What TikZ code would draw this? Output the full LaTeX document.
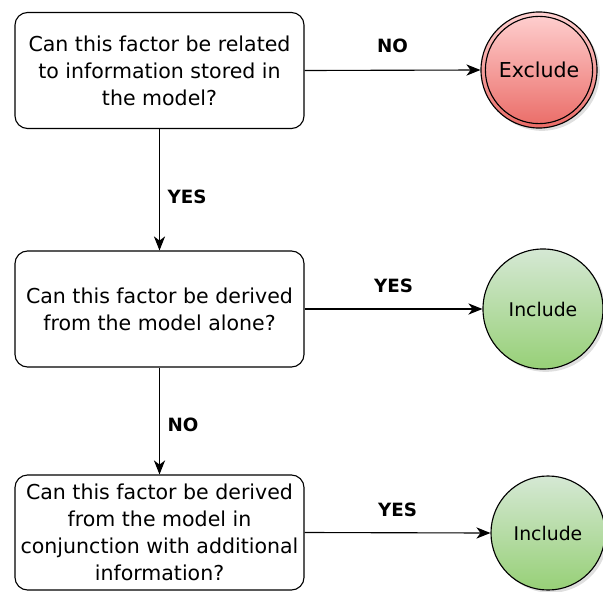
\documentclass[tikz,border=0pt]{standalone}
\usepackage{fontspec}
\setmainfont{DejaVu Sans}
\usetikzlibrary{shapes.geometric, arrows.meta, shadows}

\begin{document}
\begin{tikzpicture}[x=0.025cm, y=-0.025cm]
	\tikzstyle{question}=[draw, line width=0.8pt, rounded corners=9pt, align=center, inner sep=1pt, minimum height=2.9cm, minimum width=7.225cm, font=\fontsize{14.6}{19.2}\selectfont]
	\tikzstyle{result}=[draw, line width=0.8pt, circle, drop shadow={opacity=0.25, shadow xshift=2pt, shadow yshift=-2pt}, font=\fontsize{13.4}{16}\selectfont]
	\tikzstyle{answer}=[font=\bfseries\fontsize{13}{15}\selectfont]
	\tikzstyle{arrow}=[-{Stealth[length=10pt, width=8pt, inset=3pt]}, line width=0.8pt]

	\useasboundingbox (0, 0) rectangle (603, 591);

	% questions
	\node[question](Related) at (159.5, 70.5) {Can this factor be related\\to information stored in\\the model?};
	\node[question](Alone) at (159.5, 309) {Can this factor be derived\\from the model alone?};
	\node[question, minimum height=2.875cm](Conjunction) at (159.5, 532.5) {Can this factor be derived\\from the model in\\conjunction with additional\\information?};

	% exclude
	\node[result, minimum size=2.9cm, font=\fontsize{14.6}{16}\selectfont, top color=red!18!white, bottom color={rgb,255:red,234;green,107;blue,102}](Exclude) at (539, 70) {Exclude};
	\node[draw, line width=0.8pt, circle, minimum size=2.68cm](Exclude_Ring) at (Exclude.center) {};

	% include
	\node[result, minimum size=3cm, top color={rgb,255:red,213;green,232;blue,212}, bottom color={rgb,255:red,151;green,208;blue,119}](Include_Alone) at (543, 309) {Include};
	\node[result, minimum size=2.85cm, top color={rgb,255:red,213;green,232;blue,212}, bottom color={rgb,255:red,151;green,208;blue,119}](Include_Conj) at (548, 533) {Include};

	% lines
	% related - exclude
	\draw[arrow](Related.east)--(Exclude.west) node[answer, midway, anchor=south, yshift=0.3cm]{NO};
	% related - alone
	\draw[arrow](Related.south)--(Alone.north) node[answer, midway, anchor=west, xshift=2pt, yshift=-0.18cm]{YES};
	% alone - include
	\draw[arrow](Alone.east)--(Include_Alone.west) node[answer, midway, anchor=south, yshift=0.28cm]{YES};
	% alone - conjunction
	\draw[arrow](Alone.south)--(Conjunction.north) node[answer, midway, anchor=west, xshift=2pt, yshift=-0.1cm]{NO};
	% conjunction - include
	\draw[arrow](Conjunction.east)--(Include_Conj.west) node[answer, midway, anchor=south, yshift=0.28cm]{YES};
\end{tikzpicture}
\end{document}
